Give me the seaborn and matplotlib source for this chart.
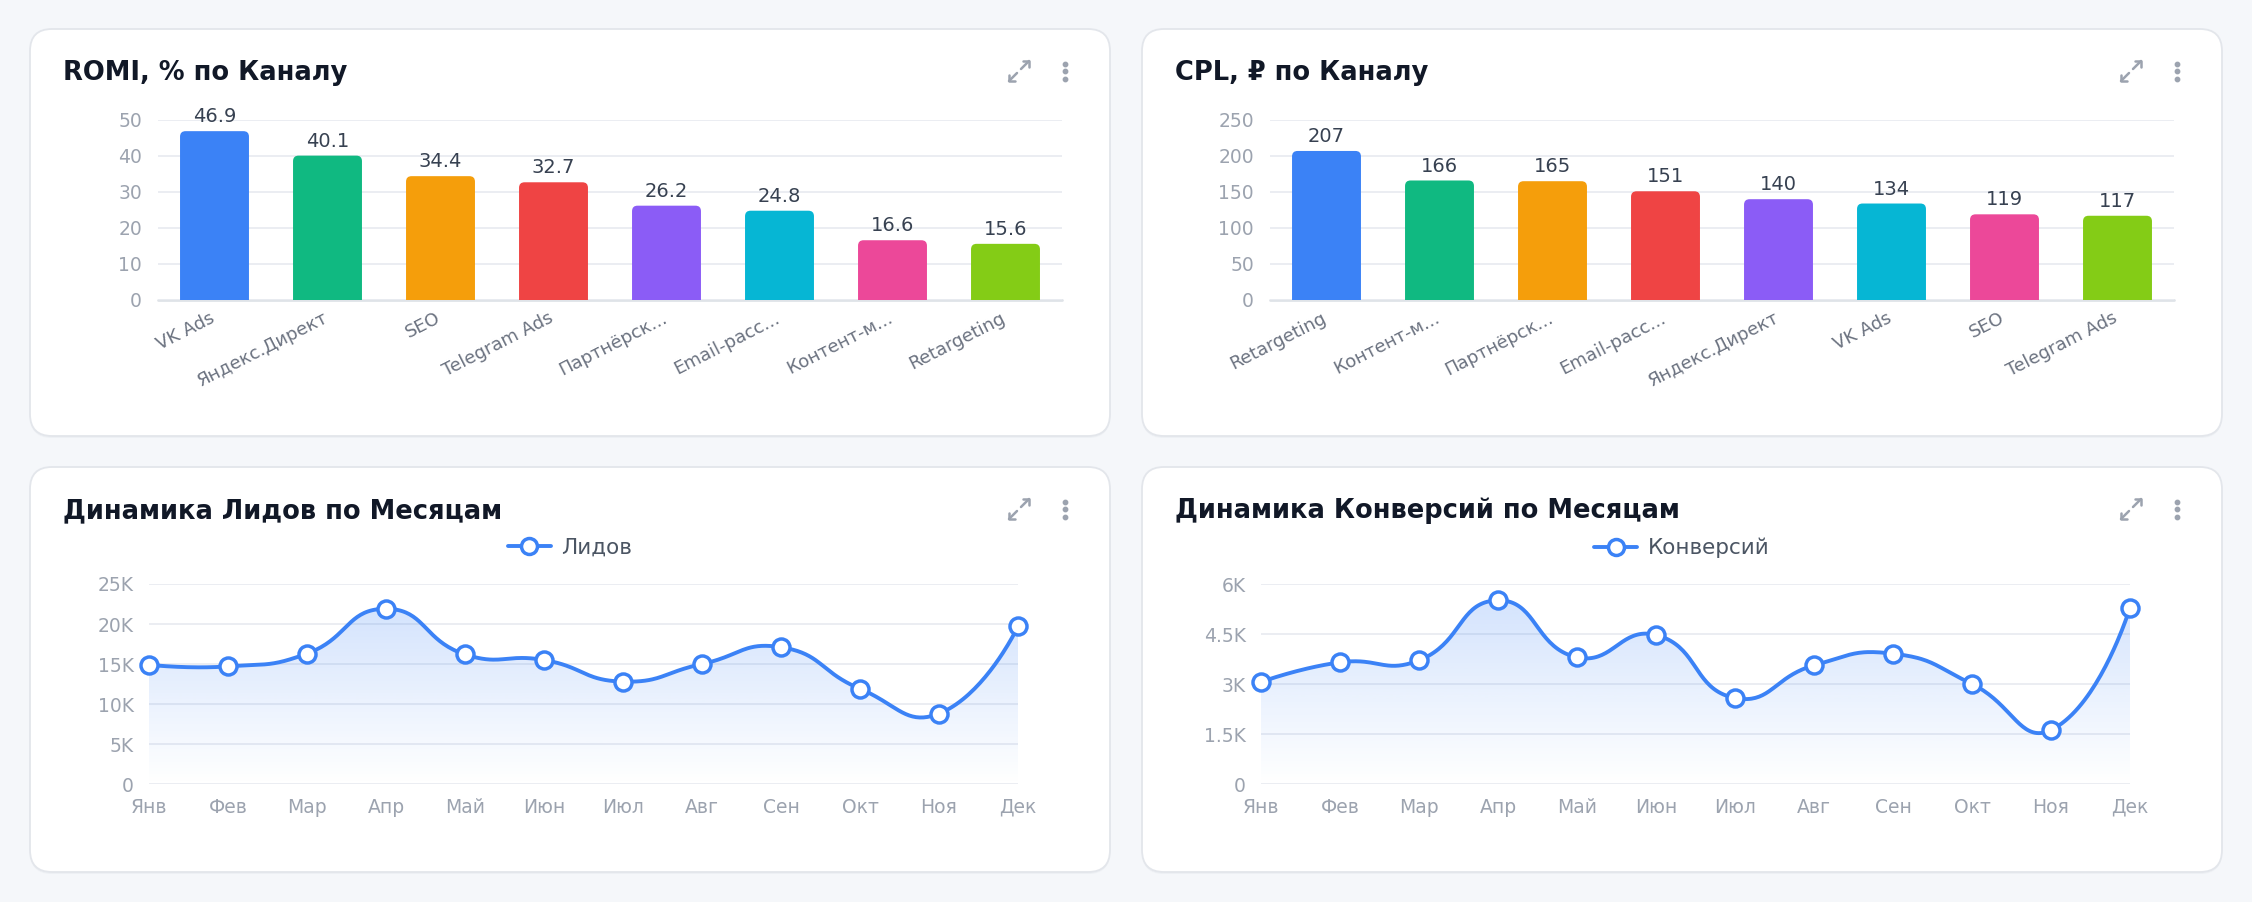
import numpy as np
import pandas as pd
import matplotlib
matplotlib.use("Agg")
import matplotlib.pyplot as plt
import matplotlib.transforms as mtransforms
import seaborn as sns
from matplotlib.patches import FancyBboxPatch, Polygon
from matplotlib.lines import Line2D

# ---------------- data ----------------
romi_channels = ["VK Ads", "Яндекс.Директ", "SEO", "Telegram Ads",
                 "Партнёрск...", "Email-расс...", "Контент-м...", "Retargeting"]
romi_values = [46.9, 40.1, 34.4, 32.7, 26.2, 24.8, 16.6, 15.6]
romi_ticks = [0, 10, 20, 30, 40, 50]

cpl_channels = ["Retargeting", "Контент-м...", "Партнёрск...", "Email-расс...",
                "Яндекс.Директ", "VK Ads", "SEO", "Telegram Ads"]
cpl_values = [207, 166, 165, 151, 140, 134, 119, 117]
cpl_ticks = [0, 50, 100, 150, 200, 250]

months = ["Янв", "Фев", "Мар", "Апр", "Май", "Июн",
          "Июл", "Авг", "Сен", "Окт", "Ноя", "Дек"]
leads = [14900, 14700, 16300, 21900, 16200, 15500,
         12800, 15000, 17100, 11900, 8800, 19700]
leads_ticks = [0, 5000, 10000, 15000, 20000, 25000]
leads_tick_labels = ["0", "5K", "10K", "15K", "20K", "25K"]

conversions = [3060, 3650, 3710, 5510, 3800, 4470,
               2580, 3560, 3910, 3000, 1620, 5290]
conv_ticks = [0, 1500, 3000, 4500, 6000]
conv_tick_labels = ["0", "1.5K", "3K", "4.5K", "6K"]

bar_colors = ["#3b82f6", "#10b981", "#f59e0b", "#ef4444",
              "#8b5cf6", "#06b6d4", "#ec4899", "#84cc16"]

titles = ["ROMI, % по Каналу", "CPL, ₽ по Каналу",
          "Динамика Лидов по Месяцам", "Динамика Конверсий по Месяцам"]

# ---------------- style ----------------
sns.set_theme(style="white")
plt.rcParams["font.family"] = ["DejaVu Sans"]

BG = "#f5f7fa"
BLUE = "#3b82f6"
TITLE_C = "#111827"
YTICK_C = "#9ca3af"
XTICK_C = "#6b7280"
GRID_C = "#e9ecf1"

W, H, DPI = 2252, 902, 100
fig = plt.figure(figsize=(W / DPI, H / DPI), dpi=DPI, facecolor=BG)

bg = fig.add_axes([0, 0, 1, 1], zorder=0)
bg.set_xlim(0, W)
bg.set_ylim(H, 0)
bg.axis("off")


def px_axes(x0, y0, x1, y1):
    a = fig.add_axes([x0 / W, 1 - y1 / H, (x1 - x0) / W, (y1 - y0) / H], zorder=2)
    a.set_facecolor("none")
    return a


cards = [(30, 29, 1110, 436), (1142, 29, 2222, 436),
         (30, 467, 1110, 872), (1142, 467, 2222, 872)]

for i, (x0, y0, x1, y1) in enumerate(cards):
    sh = FancyBboxPatch((x0, y0 + 2), x1 - x0, y1 - y0,
                        boxstyle="round,pad=0,rounding_size=22",
                        fc="#edf0f4", ec="none", zorder=0)
    bg.add_patch(sh)
    card = FancyBboxPatch((x0, y0), x1 - x0, y1 - y0,
                          boxstyle="round,pad=0,rounding_size=22",
                          fc="white", ec="#e3e6eb", lw=1.3, zorder=1)
    bg.add_patch(card)
    bg.text(x0 + 33, y0 + 51, titles[i], fontsize=18.5, fontweight="bold",
            color=TITLE_C, va="baseline", ha="left", zorder=3)
    # expand icon
    cx, cy = x0 + 989, y0 + 42
    kw = dict(color="#9ca3af", lw=1.8, solid_capstyle="round", zorder=3)
    bg.plot([cx + 2, cx + 10], [cy - 2, cy - 10], **kw)
    bg.plot([cx + 4, cx + 10, cx + 10], [cy - 10, cy - 10, cy - 4], **kw)
    bg.plot([cx - 2, cx - 10], [cy + 2, cy + 10], **kw)
    bg.plot([cx - 10, cx - 10, cx - 4], [cy + 4, cy + 10, cy + 10], **kw)
    # kebab dots
    dx = x0 + 1035
    bg.scatter([dx, dx, dx], [cy - 7.5, cy, cy + 7.5], s=10, color="#9ca3af", zorder=3)


def bar_panel(ax, cats, vals, ticks, fmt):
    df = pd.DataFrame({"ch": cats, "v": vals})
    sns.barplot(data=df, x="ch", y="v", hue="ch", palette=bar_colors,
                legend=False, width=0.61, saturation=1, ax=ax)
    ax.set_xlim(-0.5, len(cats) - 0.5)
    ax.set_ylim(0, ticks[-1])
    ax.set_yticks(ticks)
    ax.yaxis.grid(True, color=GRID_C, lw=1.3)
    ax.set_axisbelow(True)
    for s in ax.spines.values():
        s.set_visible(False)
    ax.axhline(0, color="#dfe3e8", lw=2, zorder=0.5, clip_on=False)
    ax.set_xlabel("")
    ax.set_ylabel("")
    ax.tick_params(axis="y", length=0, pad=11.5, labelsize=13.5, labelcolor=YTICK_C)
    ax.tick_params(axis="x", length=0, pad=6.5, labelsize=13, labelcolor=XTICK_C)
    shift = mtransforms.ScaledTranslation(-5 / DPI, 0, fig.dpi_scale_trans)
    for lab in ax.get_xticklabels():
        lab.set_rotation(27)
        lab.set_ha("right")
        lab.set_rotation_mode("anchor")
        lab.set_transform(lab.get_transform() + shift)
    # rounded top corners
    bb = ax.get_window_extent()
    px_x = bb.width / (len(cats))
    px_y = bb.height / ticks[-1]
    r_px = 5.5
    rx = r_px / px_x
    ry = r_px / px_y
    for p in list(ax.patches):
        x, w, h = p.get_x(), p.get_width(), p.get_height()
        fc = p.get_facecolor()
        p.remove()
        rp = FancyBboxPatch((x, -ry), w, h + ry,
                            boxstyle=f"round,pad=0,rounding_size={rx}",
                            mutation_aspect=ry / rx, fc=fc, ec="none", zorder=2)
        ax.add_patch(rp)
        ax.annotate(fmt(h), (x + w / 2, h), xytext=(0, 3.5), textcoords="offset points",
                    ha="center", va="bottom", fontsize=14, color="#374151")


def smooth_curve(vals, sx, sy, smooth=0.5, nseg=40):
    P = np.column_stack([np.arange(len(vals)) * sx, np.asarray(vals, float) * sy])
    n = len(P)
    cps_next = []
    cps_prev = []
    for i in range(n):
        if i == 0 or i == n - 1:
            cps_next.append(P[i])
            cps_prev.append(P[i])
            continue
        v = P[i + 1] - P[i - 1]
        d0 = np.linalg.norm(P[i] - P[i - 1])
        d1 = np.linalg.norm(P[i + 1] - P[i])
        r = d1 / (d0 + d1)
        cps_next.append(P[i] + v * smooth * r)
        cps_prev.append(P[i] - v * smooth * (1 - r))
    out = [P[0]]
    t = np.linspace(0, 1, nseg)[1:, None]
    for i in range(n - 1):
        p0, p1, p2, p3 = P[i], cps_next[i], cps_prev[i + 1], P[i + 1]
        seg = ((1 - t) ** 3) * p0 + 3 * ((1 - t) ** 2) * t * p1 + 3 * (1 - t) * t ** 2 * p2 + t ** 3 * p3
        out.extend(seg)
    out = np.array(out)
    return out[:, 0] / sx, out[:, 1] / sy


def line_panel(ax, vals, ticks, tick_labels, name, legend_xy):
    n = len(vals)
    xs = np.arange(n)
    ymax = ticks[-1]
    bb = ax.get_window_extent()
    sx = bb.width / (n - 1)
    sy = bb.height / ymax
    cx, cy = smooth_curve(vals, sx, sy)

    # gradient area
    top = cy.max()
    alpha = np.linspace(0.22, 0.0, 256)
    rgb = matplotlib.colors.to_rgb(BLUE)
    img = np.zeros((256, 1, 4))
    img[:, 0, :3] = rgb
    img[:, 0, 3] = alpha
    im = ax.imshow(img, extent=[0, n - 1, 0, top], aspect="auto",
                   origin="upper", zorder=1, interpolation="bilinear")
    verts = [(cx[0], 0)] + list(zip(cx, cy)) + [(cx[-1], 0)]
    poly = Polygon(verts, closed=True, transform=ax.transData, fc="none", ec="none")
    im.set_clip_path(poly)

    sns.lineplot(x=cx, y=cy, sort=False, estimator=None, color=BLUE,
                 lw=2.8, ax=ax, zorder=3, clip_on=False)
    sns.scatterplot(x=xs, y=vals, s=150, color="white", edgecolor=BLUE,
                    linewidth=2.5, zorder=5, ax=ax, clip_on=False)
    ax.set_xlim(0, n - 1)
    ax.set_ylim(0, ymax)
    ax.set_aspect("auto")
    ax.set_xticks(xs)
    ax.set_xticklabels(months)
    ax.set_yticks(ticks)
    ax.set_yticklabels(tick_labels)
    ax.yaxis.grid(True, color=GRID_C, lw=1.3)
    ax.xaxis.grid(False)
    ax.set_axisbelow(True)
    for s in ax.spines.values():
        s.set_visible(False)
    ax.tick_params(axis="y", length=0, pad=11, labelsize=13.5, labelcolor=YTICK_C)
    ax.tick_params(axis="x", length=0, pad=10, labelsize=13.5, labelcolor=YTICK_C)
    ax.set_xlabel("")
    ax.set_ylabel("")
    h = Line2D([], [], color=BLUE, lw=2.8, marker="o", markersize=11.5,
               markerfacecolor="white", markeredgecolor=BLUE, markeredgewidth=2.5)
    fig.legend(handles=[h], labels=[name], loc="center",
               bbox_to_anchor=(legend_xy[0] / W, 1 - legend_xy[1] / H),
               frameon=False, fontsize=15.5, labelcolor="#4b5563",
               handlelength=2.0, handletextpad=0.5)


ax1 = px_axes(158, 120, 1062, 300)
bar_panel(ax1, romi_channels, romi_values, romi_ticks, lambda v: f"{v:.1f}")
ax2 = px_axes(1270, 120, 2174, 300)
bar_panel(ax2, cpl_channels, cpl_values, cpl_ticks, lambda v: f"{v:.0f}")

ax3 = px_axes(149, 584, 1018, 784)
line_panel(ax3, leads, leads_ticks, leads_tick_labels, "Лидов", (570, 548))
ax4 = px_axes(1261, 584, 2130, 784)
line_panel(ax4, conversions, conv_ticks, conv_tick_labels, "Конверсий", (1682, 548))

fig.savefig("out.png", dpi=DPI, facecolor=BG)
